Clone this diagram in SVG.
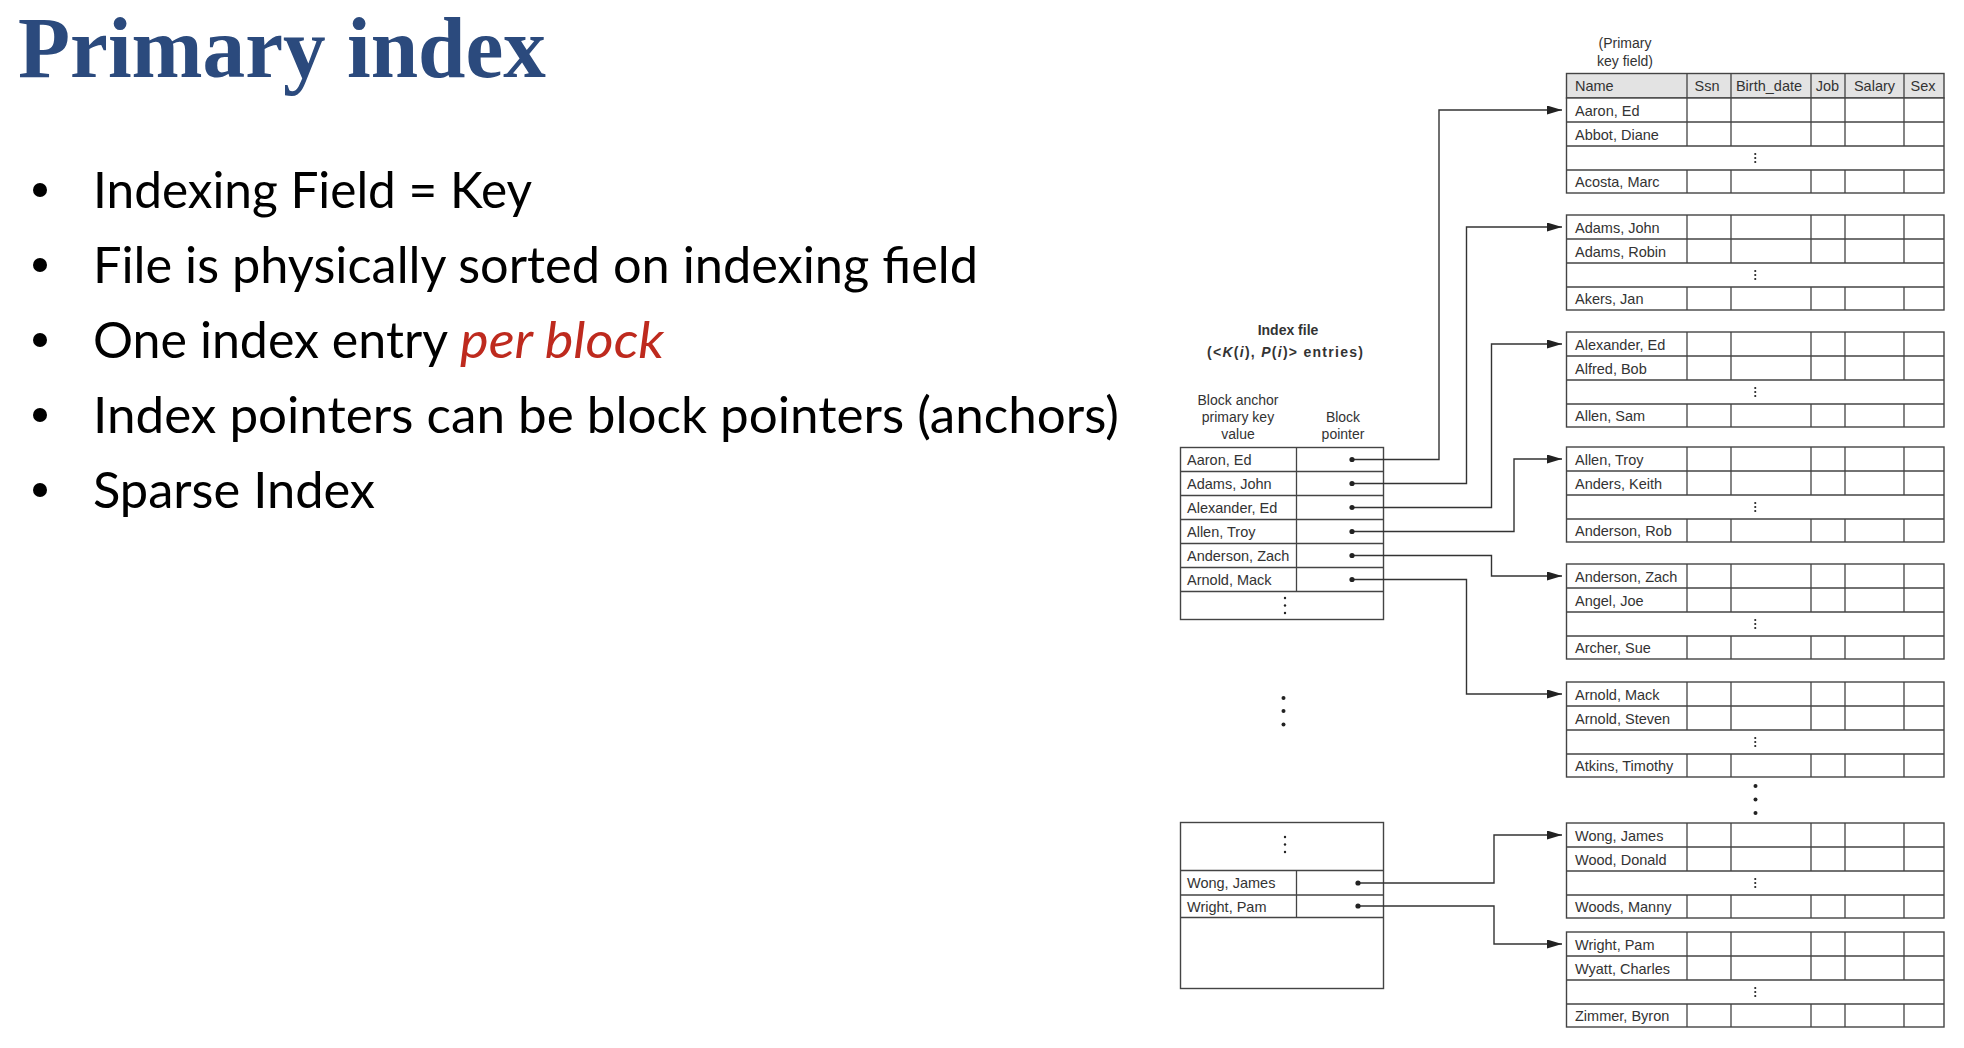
<svg xmlns="http://www.w3.org/2000/svg" xmlns:xlink="http://www.w3.org/1999/xlink" width="1964" height="1048" viewBox="0 0 1964 1048">
  <style>
    .title { font-family: "Liberation Serif", "Times New Roman", serif; font-weight: bold; font-size: 86px; fill: #2B4A7D; }
    .bullet { font-family: Lato, "Open Sans", "Liberation Sans", sans-serif; font-size: 50px; fill: #000; }
    .em { font-style: italic; fill: #BE2A1E; }
    .t { font-family: "Liberation Sans", Arial, sans-serif; font-size: 14.5px; fill: #333; }
    .lbl { font-family: "Liberation Sans", Arial, sans-serif; font-size: 14px; fill: #333; }
    .hd { font-family: "Liberation Sans", Arial, sans-serif; font-size: 14px; font-weight: bold; fill: #333; }
    .mid { text-anchor: middle; }
    .box { fill: #fff; stroke: #444; stroke-width: 1.4; }
    .ln { stroke: #444; stroke-width: 1.3; fill: none; }
    .wire { stroke: #333; stroke-width: 1.4; fill: none; marker-end: url(#arrow); }
    .pt { fill: #222; }
  </style>
  <defs>
    <marker id="arrow" markerUnits="userSpaceOnUse" markerWidth="16" markerHeight="10" refX="15" refY="4.5" orient="auto">
      <path d="M0,0 L15,4.5 L0,9 z" fill="#222"/>
    </marker>
    <!-- one data block: two records, an elided middle, one last record -->
    <g id="blk">
      <rect class="box" x="0" y="0" width="377.5" height="95"/>
      <path class="ln" d="M0,24 H377.5 M0,48 H377.5 M0,72 H377.5"/>
      <path class="ln" d="M120.5,0 V48 M164.5,0 V48 M244.5,0 V48 M278.5,0 V48 M337.5,0 V48 M120.5,72 V95 M164.5,72 V95 M244.5,72 V95 M278.5,72 V95 M337.5,72 V95"/>
      <circle class="pt" cx="188.75" cy="56" r="1.1"/>
      <circle class="pt" cx="188.75" cy="60" r="1.1"/>
      <circle class="pt" cx="188.75" cy="64" r="1.1"/>
    </g>
  </defs>

  <rect width="1964" height="1048" fill="#fff"/>

  <g id="title">
    <text class="title" x="18" y="77" textLength="528" lengthAdjust="spacingAndGlyphs">Primary index</text>
  </g>

  <g id="bullets">
    <circle cx="40" cy="190" r="7"/>
    <text class="bullet" x="93" y="208" textLength="439" lengthAdjust="spacingAndGlyphs">Indexing Field = Key</text>
    <circle cx="40" cy="265" r="7"/>
    <text class="bullet" x="93" y="283" textLength="885" lengthAdjust="spacingAndGlyphs">File is physically sorted on indexing field</text>
    <circle cx="40" cy="340" r="7"/>
    <text class="bullet" x="93" y="358" textLength="355" lengthAdjust="spacingAndGlyphs">One index entry</text>
    <text class="bullet em" x="460" y="358" textLength="204" lengthAdjust="spacingAndGlyphs">per block</text>
    <circle cx="40" cy="415" r="7"/>
    <text class="bullet" x="93" y="433" textLength="1026" lengthAdjust="spacingAndGlyphs">Index pointers can be block pointers (anchors)</text>
    <circle cx="40" cy="490" r="7"/>
    <text class="bullet" x="93" y="508" textLength="282" lengthAdjust="spacingAndGlyphs">Sparse Index</text>
  </g>

  <g id="index-file">
    <text class="hd mid" x="1288" y="335">Index file</text>
    <text class="hd" x="1207" y="357" textLength="156" lengthAdjust="spacing">(&lt;<tspan font-style="italic">K</tspan>(<tspan font-style="italic">i</tspan>), <tspan font-style="italic">P</tspan>(<tspan font-style="italic">i</tspan>)&gt; entries)</text>
    <text class="lbl mid" x="1238" y="405">Block anchor</text>
    <text class="lbl mid" x="1238" y="422">primary key</text>
    <text class="lbl mid" x="1238" y="439">value</text>
    <text class="lbl mid" x="1343" y="422">Block</text>
    <text class="lbl mid" x="1343" y="439">pointer</text>

    <g id="index-block-1">
      <rect class="box" x="1180.5" y="447.5" width="203" height="172"/>
      <path class="ln" d="M1180.5,471.5 H1383.5 M1180.5,495.5 H1383.5 M1180.5,519.5 H1383.5 M1180.5,543.5 H1383.5 M1180.5,567.5 H1383.5 M1180.5,591.5 H1383.5 M1296.5,447.5 V591.5"/>
      <text class="t" x="1187" y="465">Aaron, Ed</text>
      <text class="t" x="1187" y="489">Adams, John</text>
      <text class="t" x="1187" y="513">Alexander, Ed</text>
      <text class="t" x="1187" y="537">Allen, Troy</text>
      <text class="t" x="1187" y="561">Anderson, Zach</text>
      <text class="t" x="1187" y="585">Arnold, Mack</text>
      <circle class="pt" cx="1285" cy="598" r="1.2"/>
      <circle class="pt" cx="1285" cy="605.5" r="1.2"/>
      <circle class="pt" cx="1285" cy="613" r="1.2"/>
    </g>

    <g id="index-gap">
      <circle class="pt" cx="1283.5" cy="698" r="2"/>
      <circle class="pt" cx="1283.5" cy="711" r="2"/>
      <circle class="pt" cx="1283.5" cy="724.5" r="2"/>
    </g>

    <g id="index-block-2">
      <rect class="box" x="1180.5" y="822.5" width="203" height="166"/>
      <path class="ln" d="M1180.5,870.5 H1383.5 M1180.5,895 H1383.5 M1180.5,917.5 H1383.5 M1296.5,870.5 V917.5"/>
      <circle class="pt" cx="1285" cy="837" r="1.2"/>
      <circle class="pt" cx="1285" cy="844.5" r="1.2"/>
      <circle class="pt" cx="1285" cy="852" r="1.2"/>
      <text class="t" x="1187" y="888">Wong, James</text>
      <text class="t" x="1187" y="911.5">Wright, Pam</text>
    </g>
  </g>

  <g id="data-file">
    <text class="lbl mid" x="1625" y="48">(Primary</text>
    <text class="lbl mid" x="1625" y="66">key field)</text>

    <g id="data-header">
      <rect x="1566.5" y="73.5" width="377.5" height="24.5" fill="#e3e3e3" stroke="#444" stroke-width="1.4"/>
      <path class="ln" d="M1687,73.5 V98 M1731,73.5 V98 M1811,73.5 V98 M1845,73.5 V98 M1904,73.5 V98"/>
      <text class="t" x="1575" y="91">Name</text>
      <text class="t mid" x="1707" y="91">Ssn</text>
      <text class="t mid" x="1769" y="91">Birth_date</text>
      <text class="t mid" x="1827.5" y="91">Job</text>
      <text class="t mid" x="1874.5" y="91">Salary</text>
      <text class="t mid" x="1923" y="91">Sex</text>
    </g>

    <g id="block-1">
      <use xlink:href="#blk" x="1566.5" y="98"/>
      <text class="t" x="1575" y="115.5">Aaron, Ed</text>
      <text class="t" x="1575" y="139.5">Abbot, Diane</text>
      <text class="t" x="1575" y="187">Acosta, Marc</text>
    </g>
    <g id="block-2">
      <use xlink:href="#blk" x="1566.5" y="215"/>
      <text class="t" x="1575" y="232.5">Adams, John</text>
      <text class="t" x="1575" y="256.5">Adams, Robin</text>
      <text class="t" x="1575" y="304">Akers, Jan</text>
    </g>
    <g id="block-3">
      <use xlink:href="#blk" x="1566.5" y="332"/>
      <text class="t" x="1575" y="349.5">Alexander, Ed</text>
      <text class="t" x="1575" y="373.5">Alfred, Bob</text>
      <text class="t" x="1575" y="421">Allen, Sam</text>
    </g>
    <g id="block-4">
      <use xlink:href="#blk" x="1566.5" y="447"/>
      <text class="t" x="1575" y="464.5">Allen, Troy</text>
      <text class="t" x="1575" y="488.5">Anders, Keith</text>
      <text class="t" x="1575" y="536">Anderson, Rob</text>
    </g>
    <g id="block-5">
      <use xlink:href="#blk" x="1566.5" y="564"/>
      <text class="t" x="1575" y="581.5">Anderson, Zach</text>
      <text class="t" x="1575" y="605.5">Angel, Joe</text>
      <text class="t" x="1575" y="653">Archer, Sue</text>
    </g>
    <g id="block-6">
      <use xlink:href="#blk" x="1566.5" y="682"/>
      <text class="t" x="1575" y="699.5">Arnold, Mack</text>
      <text class="t" x="1575" y="723.5">Arnold, Steven</text>
      <text class="t" x="1575" y="771">Atkins, Timothy</text>
    </g>
    <g id="data-gap">
      <circle class="pt" cx="1755.5" cy="786" r="2"/>
      <circle class="pt" cx="1755.5" cy="799.5" r="2"/>
      <circle class="pt" cx="1755.5" cy="813" r="2"/>
    </g>
    <g id="block-7">
      <use xlink:href="#blk" x="1566.5" y="823"/>
      <text class="t" x="1575" y="840.5">Wong, James</text>
      <text class="t" x="1575" y="864.5">Wood, Donald</text>
      <text class="t" x="1575" y="912">Woods, Manny</text>
    </g>
    <g id="block-8">
      <use xlink:href="#blk" x="1566.5" y="932"/>
      <text class="t" x="1575" y="949.5">Wright, Pam</text>
      <text class="t" x="1575" y="973.5">Wyatt, Charles</text>
      <text class="t" x="1575" y="1021">Zimmer, Byron</text>
    </g>
  </g>

  <g id="connectors">
    <path class="wire" d="M1352,459.5 H1439 V110 H1562"/>
    <path class="wire" d="M1352,483.5 H1466.5 V227 H1562"/>
    <path class="wire" d="M1352,507.5 H1491.5 V344 H1562"/>
    <path class="wire" d="M1352,531.5 H1514 V459 H1562"/>
    <path class="wire" d="M1352,555.5 H1491.5 V576 H1562"/>
    <path class="wire" d="M1352,579.5 H1466.5 V694 H1562"/>
    <path class="wire" d="M1358,883 H1494 V835 H1562"/>
    <path class="wire" d="M1358,906 H1494 V944 H1562"/>
    <circle class="pt" cx="1352" cy="459.5" r="2.6"/>
    <circle class="pt" cx="1352" cy="483.5" r="2.6"/>
    <circle class="pt" cx="1352" cy="507.5" r="2.6"/>
    <circle class="pt" cx="1352" cy="531.5" r="2.6"/>
    <circle class="pt" cx="1352" cy="555.5" r="2.6"/>
    <circle class="pt" cx="1352" cy="579.5" r="2.6"/>
    <circle class="pt" cx="1358" cy="883" r="2.6"/>
    <circle class="pt" cx="1358" cy="906" r="2.6"/>
  </g>
</svg>
